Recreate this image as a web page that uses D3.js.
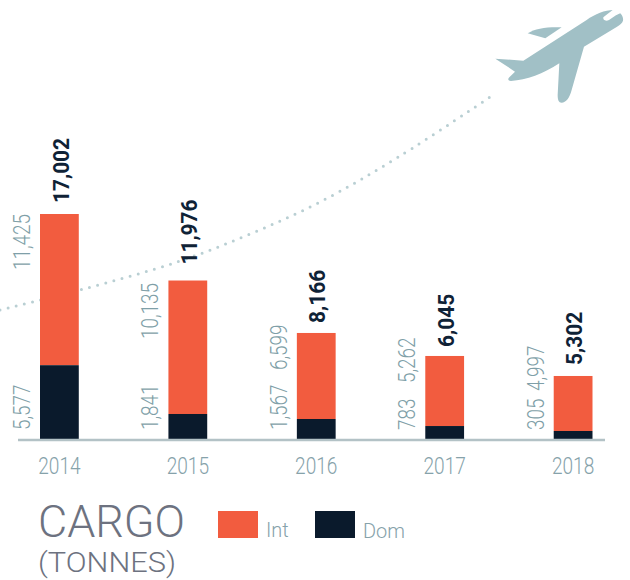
<!DOCTYPE html>
<html>
<head>
<meta charset="utf-8">
<script src="https://cdnjs.cloudflare.com/ajax/libs/d3/7.8.5/d3.min.js"></script>
<style>
  html, body { margin: 0; padding: 0; background: #fff; }
  text { font-family: Roboto, "Open Sans", sans-serif; }
</style>
</head>
<body>
<div class="chart"></div>
<script>
var years = ["2014", "2015", "2016", "2017", "2018"];

// figures printed on the chart
var totalLabels = [17002, 11976, 8166, 6045, 5302];
var intLabels = [11425, 10135, 6599, 5262, 4997];
var domLabels = [5577, 1841, 1567, 783, 305];

// bar heights as drawn: the picture's bars are not quite to scale with the printed figures
var domBars = [5577, 1890, 1512, 980, 605];
var intBars = [11425, 10086, 6500, 5294, 4157];

var svgWidth = 630;
var svgHeight = 580;
var baseline = 439;

var svg = d3.select(".chart")
  .append("svg")
  .attr("width", svgWidth)
  .attr("height", svgHeight)
  .style("display", "block");

var fmt = d3.format(",");
var x = d3.scaleBand().domain(years).range([40, 592.5]).paddingInner(0.698).paddingOuter(0);
var y = d3.scaleLinear().domain([0, 17002]).range([baseline, 214]);

// squeeze the glyphs, the original face is a narrow DIN
function condense(sel, factor) {
  sel.attr("textLength", function () { return this.getComputedTextLength() * factor; })
    .attr("lengthAdjust", "spacingAndGlyphs");
}

// dotted flight path, behind everything
var flightPath = [[0, 310], [80, 290], [177, 262], [250, 234], [320, 202], [400, 156], [490, 97]];
svg.append("path")
  .attr("d", d3.line().curve(d3.curveCatmullRom)(flightPath))
  .attr("fill", "none")
  .attr("stroke", "#b9cfd3")
  .attr("stroke-width", 3)
  .attr("stroke-linecap", "round")
  .attr("stroke-dasharray", "0 8.4");

// plane
var plane = svg.append("g").attr("transform", "translate(440,0) scale(0.3333)");
plane.append("path")
  .attr("fill", "#a1c0c6")
  .attr("d", "M166,176 L250,182 L440,60 C465,42 495,30 520,30 C535,30 552,45 549,62 C547,70 540,74 530,81 L432,140 L395,270 C388,295 378,308 365,308 C356,308 353,300 353,285 L358,190 C310,222 260,240 213,243 C205,243 202,238 208,232 L225,215 Z");
plane.append("path")
  .attr("fill", "#a1c0c6")
  .attr("d", "M263,100 C285,85 325,80 365,82 L316,115 Z");
plane.append("path")
  .attr("fill", "#fff")
  .attr("d", "M518,30 L490,52 C488,60 497,65 507,60 L528,46 C535,42 540,40 545,38 L535,28 Z");

// bars
var chart = svg.append("g");
chart.selectAll("rect.int")
  .data(years)
  .enter()
  .append("rect")
  .attr("class", "int")
  .attr("x", d => x(d))
  .attr("width", x.bandwidth())
  .attr("y", (d, i) => y(domBars[i] + intBars[i]))
  .attr("height", (d, i) => y(domBars[i]) - y(domBars[i] + intBars[i]))
  .attr("fill", "#f25c3f");

chart.selectAll("rect.dom")
  .data(years)
  .enter()
  .append("rect")
  .attr("class", "dom")
  .attr("x", d => x(d))
  .attr("width", x.bandwidth())
  .attr("y", (d, i) => y(domBars[i]))
  .attr("height", (d, i) => baseline - y(domBars[i]))
  .attr("fill", "#0a1a2c");

// axis
var xAxis = svg.append("g")
  .attr("transform", `translate(0, ${baseline})`)
  .call(d3.axisBottom(x).tickSize(0).tickPadding(19));
xAxis.select(".domain").remove();
xAxis.selectAll("text")
  .attr("font-size", 23)
  .attr("font-weight", 300)
  .attr("fill", "#86a2aa")
  .call(condense, 0.83);
svg.append("line")
  .attr("x1", 18).attr("x2", 605)
  .attr("y1", baseline + 1).attr("y2", baseline + 1)
  .attr("stroke", "#b3c2c6")
  .attr("stroke-width", 2.5);

// rotated labels
var totalGap = [11, 16, 10, 9, 11];
var intLabelBottom = [270, 339, 370, 383, 391];

chart.selectAll("text.total")
  .data(years)
  .enter()
  .append("text")
  .attr("class", "total")
  .attr("transform", (d, i) => `translate(${x(d) + 28.5}, ${y(domBars[i] + intBars[i]) - totalGap[i]}) rotate(-90)`)
  .attr("font-size", 22)
  .attr("font-weight", 700)
  .attr("fill", "#0f2236")
  .text((d, i) => fmt(totalLabels[i]))
  .call(condense, 0.95);

chart.selectAll("text.intLabel")
  .data(years)
  .enter()
  .append("text")
  .attr("class", "intLabel")
  .attr("transform", (d, i) => `translate(${x(d) - 10}, ${intLabelBottom[i]}) rotate(-90)`)
  .attr("font-size", 23)
  .attr("font-weight", 300)
  .attr("fill", "#7f9fa8")
  .text((d, i) => fmt(intLabels[i]))
  .call(condense, 0.82);

chart.selectAll("text.domLabel")
  .data(years)
  .enter()
  .append("text")
  .attr("class", "domLabel")
  .attr("transform", d => `translate(${x(d) - 10}, 430) rotate(-90)`)
  .attr("font-size", 23)
  .attr("font-weight", 300)
  .attr("fill", "#7f9fa8")
  .text((d, i) => fmt(domLabels[i]))
  .call(condense, 0.82);

// title
svg.append("text")
  .attr("x", 38).attr("y", 537)
  .attr("font-size", 45)
  .attr("font-weight", 300)
  .attr("fill", "#6d7280")
  .text("CARGO")
  .attr("textLength", 147)
  .attr("lengthAdjust", "spacingAndGlyphs");
svg.append("text")
  .attr("x", 38).attr("y", 572)
  .attr("font-size", 28)
  .attr("font-weight", 300)
  .attr("fill", "#6d7280")
  .text("(TONNES)")
  .attr("textLength", 138)
  .attr("lengthAdjust", "spacingAndGlyphs");

// legend
var legendNames = ["Int", "Dom"];
var legendColors = ["#f25c3f", "#0a1a2c"];
var legendX = [218, 315];
var legend = svg.selectAll("g.legend")
  .data(legendNames)
  .enter()
  .append("g")
  .attr("class", "legend")
  .attr("transform", (d, i) => `translate(${legendX[i]}, 511)`);
legend.append("rect")
  .attr("width", 40)
  .attr("height", 27)
  .attr("fill", (d, i) => legendColors[i]);
legend.append("text")
  .attr("x", 48)
  .attr("y", (d, i) => 26 + i)
  .attr("font-size", 21)
  .attr("font-weight", 300)
  .attr("fill", "#86a2aa")
  .text(d => d)
  .call(condense, 0.95);
</script>
</body>
</html>
